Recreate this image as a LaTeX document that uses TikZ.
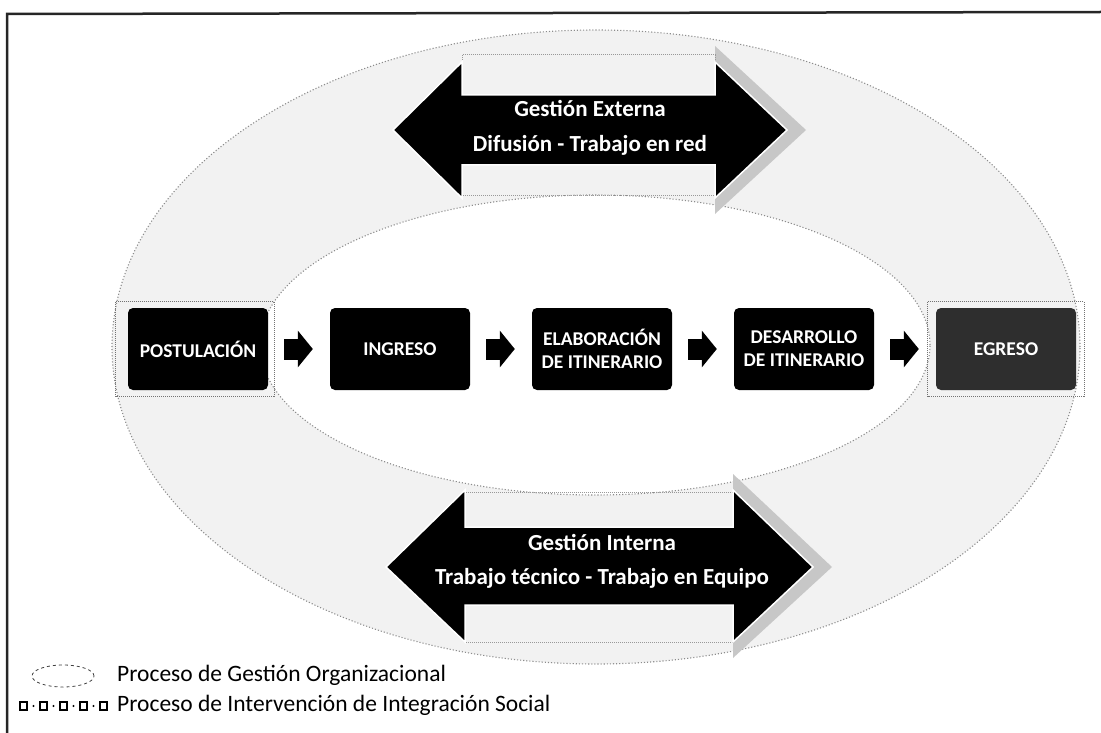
\documentclass[tikz,border=0pt]{standalone}
\usepackage{fontspec}
\setmainfont{Carlito}
\usetikzlibrary{arrows.meta,calc}

\tikzset{
  ring/.style={fill=black!5, even odd rule},
  ringline/.style={draw=black!45, dotted, line width=1.1pt},
  bigarrow/.style={fill=black, draw=white, line width=1.5pt, line join=miter},
  headshadow/.style={fill=black!22},
  bandbox/.style={draw=black!40, densely dotted, line width=1pt},
  armlabel/.style={text=white, font=\bfseries\fontsize{23}{25}\selectfont, inner sep=0pt},
  stage/.style={fill=black, rounded corners=5pt, minimum width=140pt, minimum height=82pt,
    inner sep=2pt, text=white, align=center, font=\bfseries\fontsize{19.5}{23}\selectfont},
  flow/.style={line width=21pt, -{Triangle[length=15pt,width=36pt]}, shorten <=16pt, shorten >=17pt},
  dotframe/.style={draw=black!55, densely dotted, line width=1pt},
  legendtext/.style={anchor=west, inner sep=0pt, font=\fontsize{23.5}{25}\selectfont}
}

\begin{document}
\begin{tikzpicture}[x=1pt,y=-1pt]
\useasboundingbox (0,0) rectangle (1101,733);

% frame
\draw[line width=2.5pt, black!85] (7,733) -- (7,14) -- (1101,12);

% organisational ring
\fill[ring] (596,347) ellipse [x radius=484pt, y radius=317pt]
            (595,345) ellipse [x radius=335pt, y radius=150pt];
\draw[ringline] (596,347) ellipse [x radius=484pt, y radius=317pt];
\draw[ringline] (595,345) ellipse [x radius=335pt, y radius=150pt];

% external management double arrow
\fill[headshadow] (715,46) -- (806,130) -- (715,214) -- (715,198) -- (787,130) -- (715,62) -- cycle;
\draw[bandbox] (462,55) rectangle (715,95);
\draw[bandbox] (462,165) rectangle (715,196);
\draw[bigarrow] (393,130) -- (462,62) -- (462,95) -- (715,95) -- (715,62) -- (787,130)
  -- (715,198) -- (715,165) -- (462,165) -- (462,198) -- cycle;
\node[armlabel] (ext1) at (590,108) {Gestión Externa};
\node[armlabel] (ext2) at (590,145) {Difusión - Trabajo en red};

% internal management double arrow
\fill[headshadow] (733,474) -- (832,567) -- (733,658) -- (733,642) -- (813,567) -- (733,490) -- cycle;
\draw[bandbox] (465,492) rectangle (733,527);
\draw[bandbox] (465,605) rectangle (733,642);
\draw[bigarrow] (386,567) -- (465,490) -- (465,527) -- (733,527) -- (733,490) -- (813,567)
  -- (733,642) -- (733,605) -- (465,605) -- (465,642) -- cycle;
\node[armlabel] (int1) at (602,542) {Gestión Interna};
\node[armlabel] (int2) at (602,578) {Trabajo técnico - Trabajo en Equipo};

% social integration stages
\node[stage] (post) at (198,349) {POSTULACIÓN};
\node[stage] (ingr) at (400,349) {INGRESO};
\node[stage] (elab) at (602,349) {ELABORACIÓN\\DE ITINERARIO};
\node[stage] (desa) at (804,349) {DESARROLLO\\DE ITINERARIO};
\node[stage, fill=black!82] (egre) at (1006,349) {EGRESO};

\draw[dotframe] ($(post.north west)+(-12,-6)$) rectangle ($(post.south east)+(6,6)$);
\draw[dotframe] ($(egre.north west)+(-8,-6)$) rectangle ($(egre.south east)+(8,6)$);

\draw[flow] (post.east) -- (ingr.west);
\draw[flow] (ingr.east) -- (elab.west);
\draw[flow] (elab.east) -- (desa.west);
\draw[flow] (desa.east) -- (egre.west);

% legend
\draw[black!75, dashed, line width=0.8pt] (63,676) ellipse [x radius=31pt, y radius=11pt];
\foreach \i in {0,...,4}{
  \draw[line width=1.2pt] (20+20*\i,702) rectangle (27+20*\i,710);
}
\foreach \i in {0,...,3}{
  \fill (33.5+20*\i,706) circle [radius=1.2pt];
}
\node[legendtext] (lg1) at (117,675) {Proceso de Gestión Organizacional};
\node[legendtext] (lg2) at (117,705) {Proceso de Intervención de Integración Social};
\end{tikzpicture}
\end{document}
